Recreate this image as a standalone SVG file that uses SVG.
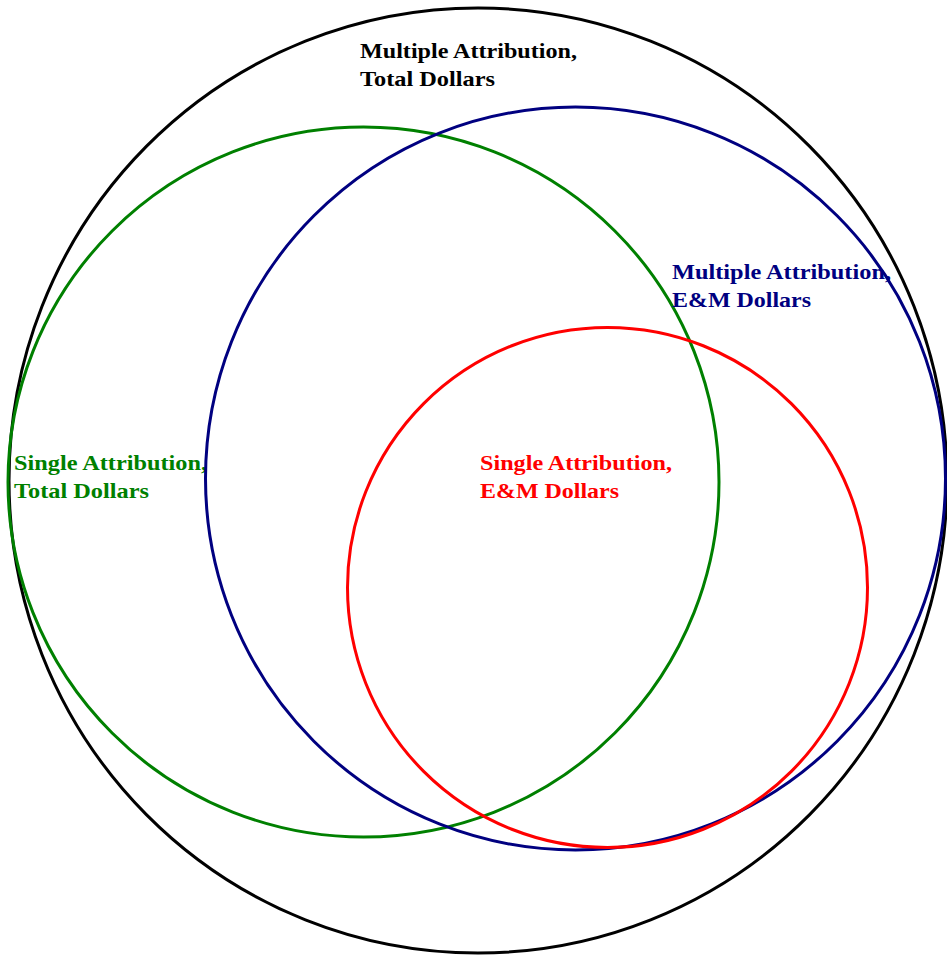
<svg xmlns="http://www.w3.org/2000/svg" width="947" height="957" viewBox="0 0 947 957">
<style>
.c{fill:none;stroke-width:3}
.t{font-family:"Liberation Serif","Times New Roman",serif;font-weight:bold;font-size:21px}
</style>
<rect width="947" height="957" fill="#fff"/>
<g id="black-circle">
<ellipse class="c" cx="478" cy="480.5" rx="469" ry="472.5" stroke="#000"/>
<text class="t" fill="#000"><tspan x="360" y="58" textLength="217" lengthAdjust="spacingAndGlyphs">Multiple Attribution,</tspan><tspan x="360" y="86" textLength="135" lengthAdjust="spacingAndGlyphs">Total Dollars</tspan></text>
</g>
<g id="green-circle">
<ellipse class="c" cx="363.5" cy="482" rx="355.5" ry="355" stroke="#008000"/>
<text class="t" fill="#008000"><tspan x="14" y="470" textLength="193" lengthAdjust="spacingAndGlyphs">Single Attribution,</tspan><tspan x="14" y="498" textLength="135" lengthAdjust="spacingAndGlyphs">Total Dollars</tspan></text>
</g>
<g id="blue-circle">
<ellipse class="c" cx="575.5" cy="478.5" rx="370" ry="371.5" stroke="#000080"/>
<text class="t" fill="#000080"><tspan x="672" y="279" textLength="219" lengthAdjust="spacingAndGlyphs">Multiple Attribution,</tspan><tspan x="672" y="307" textLength="139" lengthAdjust="spacingAndGlyphs">E&amp;M Dollars</tspan></text>
</g>
<g id="red-circle">
<ellipse class="c" cx="607.5" cy="587.5" rx="260" ry="260" stroke="#ff0000"/>
<text class="t" fill="#ff0000"><tspan x="480" y="470" textLength="192" lengthAdjust="spacingAndGlyphs">Single Attribution,</tspan><tspan x="480" y="498" textLength="139" lengthAdjust="spacingAndGlyphs">E&amp;M Dollars</tspan></text>
</g>
<g id="connectors"/>
</svg>
